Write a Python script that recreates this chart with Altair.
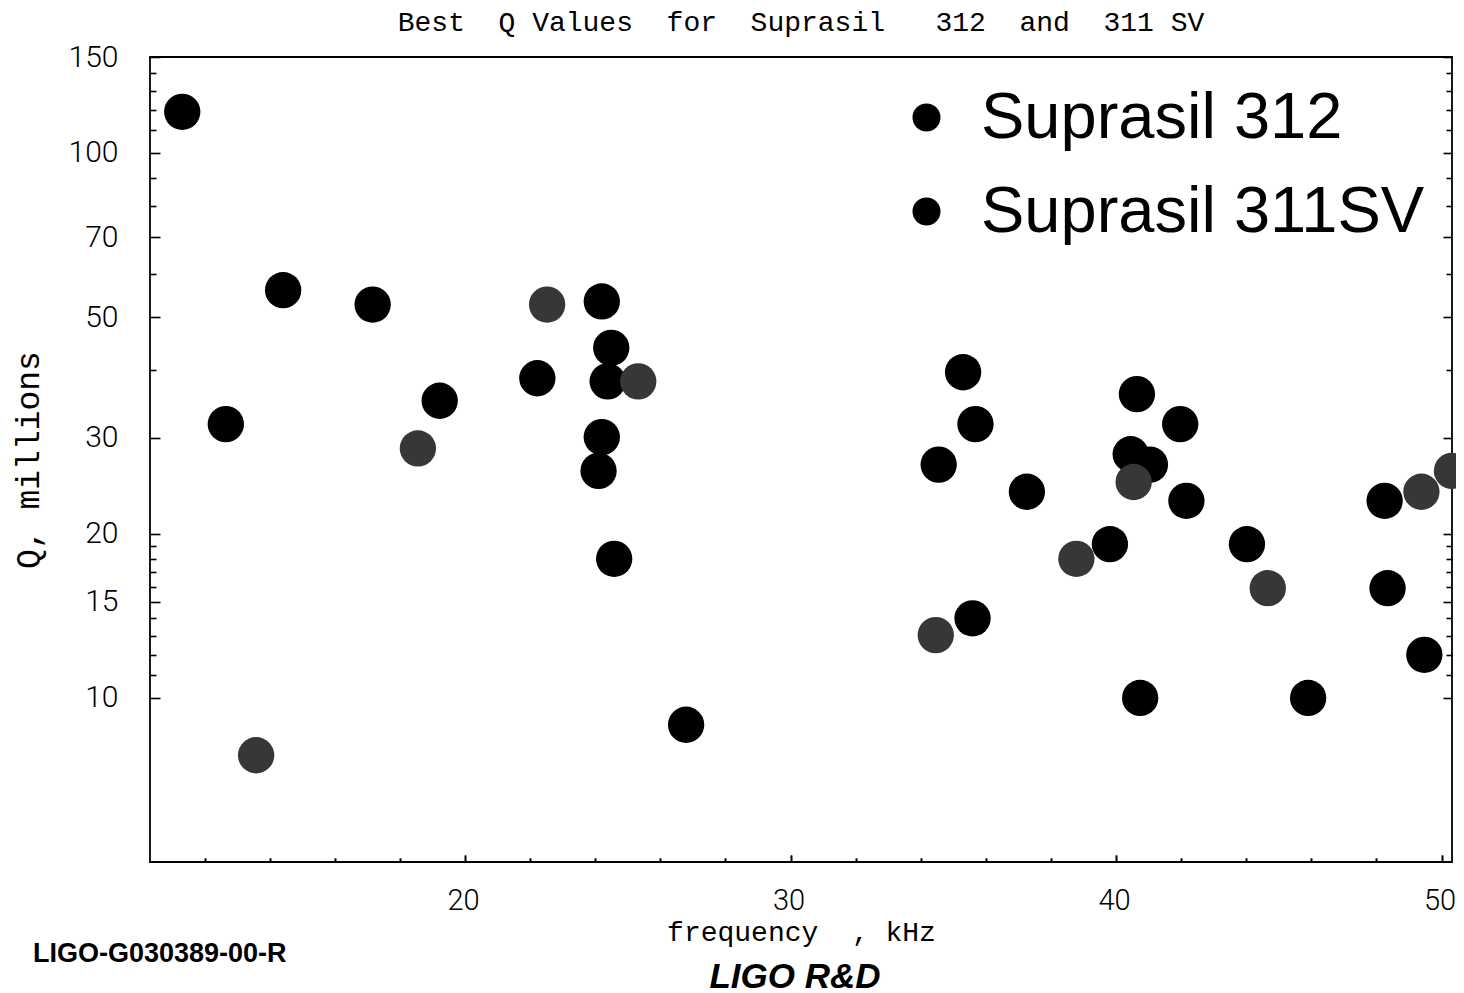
import altair as alt
import pandas as pd

# ---------------- data ----------------
series_names = ["Suprasil 312", "Suprasil 311SV"]

s312_freq = [11.31, 14.41, 17.16, 12.65, 19.22, 22.22, 24.20, 24.49, 24.38, 24.20,
             24.10, 24.58, 26.79, 35.30, 35.68, 34.55, 35.59, 37.26, 39.81, 40.64,
             40.45, 41.04, 41.97, 42.16, 40.74, 44.02, 45.90, 48.25, 48.34, 49.47]
s312_q = [119.0, 56.0, 52.7, 31.8, 35.1, 38.6, 53.4, 43.9, 38.1, 30.1,
          26.1, 18.0, 8.93, 39.6, 31.8, 26.8, 14.0, 23.9, 19.15, 36.1,
          28.0, 26.8, 31.8, 23.0, 10.0, 19.15, 10.0, 23.0, 15.9, 12.0]

s311_freq = [13.58, 18.55, 22.52, 25.32, 34.46, 38.78, 40.54, 44.66, 49.38, 50.32]
s311_q = [7.85, 28.7, 52.7, 38.1, 13.04, 18.0, 24.9, 15.9, 23.9, 26.1]

y_major = [10, 15, 20, 30, 50, 70, 100, 150]
y_minor = [11, 12, 13, 14, 16, 17, 18, 19, 40, 60, 80, 90, 110, 120, 130, 140]
x_major = [20, 30, 40, 50]
x_minor = [12, 14, 16, 18, 22, 24, 26, 28, 32, 34, 36, 38, 42, 44, 46, 48]

chart_title = ["Best\u00a0\u00a0Q\u00a0Values\u00a0\u00a0for\u00a0\u00a0Suprasil\u00a0\u00a0\u00a0312\u00a0\u00a0and\u00a0\u00a0311\u00a0SV"]
x_title = "frequency\u00a0\u00a0,\u00a0kHz"
y_title = "Q,\u00a0millions"
footer_left = ["LIGO-G030389-00-R"]
footer_center = ["LIGO R&D"]

# ---------------- layout ----------------
W, H = 1302, 805
MONO = "Liberation Mono"
SANS = "Liberation Sans"
TICKFONT = "Roboto"

df = pd.DataFrame({
    "freq": s312_freq + s311_freq,
    "Q": s312_q + s311_q,
    "material": [series_names[0]] * len(s312_freq) + [series_names[1]] * len(s311_freq),
})

xscale = alt.Scale(domain=[10.32, 50.32], nice=False, zero=False)
yscale = alt.Scale(type="log", domain=[5, 150], nice=False)

base = alt.Chart(df)

points = base.mark_circle(size=1320, opacity=1).encode(
    x=alt.X("freq:Q", scale=xscale, axis=alt.Axis(
        orient="bottom", values=x_major, ticks=False, tickSize=0, domain=False, grid=False,
        labelFont=TICKFONT, labelFontSize=29, labelFontWeight=300, labelPadding=24,
        labelOffset=-2, labelFlush=False, labelColor="black", format="d",
        title=x_title, titleFont=MONO, titleFontSize=28, titleFontWeight="normal",
        titleColor="black", titleX=W / 2, titleY=78, titleBaseline="alphabetic")),
    y=alt.Y("Q:Q", scale=yscale, axis=alt.Axis(
        orient="left", values=y_major, ticks=False, tickSize=0, domain=False, grid=False,
        labelFont=TICKFONT, labelFontSize=30, labelFontWeight=300, labelPadding=32,
        labelFlush=False, labelColor="black", format="d",
        title=y_title, titleFont=MONO, titleFontSize=33, titleFontWeight="normal",
        titleColor="black", titleAngle=270, titleX=-112, titleY=H / 2,
        titleBaseline="alphabetic")),
    color=alt.Color("material:N",
                    scale=alt.Scale(domain=series_names, range=["#000000", "#373737"]),
                    legend=None),
)

# legend-only layer (the slide's bullets are both black)
legend_layer = alt.Chart(pd.DataFrame({"series": series_names})).mark_circle(opacity=0).encode(
    color=alt.Color("series:N",
                    scale=alt.Scale(domain=series_names, range=["#000000", "#000000"]),
                    legend=alt.Legend(title=None, orient="none", legendX=744, legendY=28,
                                      direction="vertical", symbolType="circle",
                                      symbolSize=784, symbolStrokeWidth=0,
                                      symbolOpacity=1,
                                      labelFont=SANS, labelFontSize=65, labelColor="black",
                                      labelOffset=22, rowPadding=28, padding=0,
                                      labelLimit=900)),
)


def tick_layer(x_vals, x_size, y_orient, y_vals, y_size):
    return base.mark_point(opacity=0).encode(
        x=alt.X("freq:Q", scale=xscale, axis=alt.Axis(
            orient="top", offset=-H, values=x_vals, tickSize=x_size, tickWidth=1.6,
            tickColor="black", labels=False, domain=False, grid=False, title=None)),
        y=alt.Y("Q:Q", scale=yscale, axis=alt.Axis(
            orient=y_orient, offset=-W, values=y_vals, tickSize=y_size, tickWidth=1.6,
            tickColor="black", labels=False, domain=False, grid=False, title=None)),
    )


ticks_left_major = tick_layer(x_major, 7, "right", y_major, 10)
ticks_left_minor = tick_layer(x_minor, 4, "right", y_minor, 6)
ticks_right_major = tick_layer(x_major, 7, "left", y_major, 9)
ticks_right_minor = tick_layer(x_minor, 4, "left", y_minor, 6)

title_text = alt.Chart(pd.DataFrame({"t": chart_title})).mark_text(
    font=MONO, fontSize=28, align="center", baseline="alphabetic", color="black"
).encode(x=alt.value(W / 2), y=alt.value(-26), text="t:N")

foot_left = alt.Chart(pd.DataFrame({"t": footer_left})).mark_text(
    font=SANS, fontSize=27, fontWeight="bold", align="left", baseline="alphabetic",
    color="black").encode(x=alt.value(-117), y=alt.value(905), text="t:N")

foot_center = alt.Chart(pd.DataFrame({"t": footer_center})).mark_text(
    font=SANS, fontSize=35, fontWeight="bold", fontStyle="italic", align="center",
    baseline="alphabetic", color="black").encode(x=alt.value(645), y=alt.value(931), text="t:N")

chart = alt.layer(
    ticks_left_major, ticks_left_minor, ticks_right_major, ticks_right_minor,
    points, legend_layer, title_text, foot_left, foot_center,
).resolve_scale(
    color="independent"
).properties(
    width=W, height=H,
    padding={"left": 142, "top": 49, "right": 4, "bottom": 138},
    autosize=alt.AutoSizeParams(type="none"),
).configure(
    background="white",
    view=alt.ViewConfig(stroke="black", strokeWidth=1.8),
)

chart.save("out.html", embed_options={"renderer": "svg", "actions": False})
